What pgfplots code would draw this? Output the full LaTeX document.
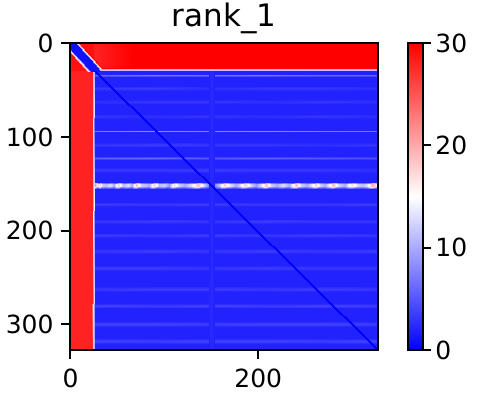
\documentclass[border=0pt]{standalone}
\usepackage{fontspec}
\setmainfont{DejaVu Sans}
\usepackage{pgfplots}
\pgfplotsset{compat=1.18}
\pgfplotsset{
  /pgf/number format/assume math mode=true,
  every axis/.append style={
    tick align=outside, major tick length=8.75pt,
    tick style={line width=2pt, black},
    axis line style={line width=2pt},
    tick label style={font=\fontsize{25}{30}\selectfont, inner sep=0pt},
  },
}
\begin{document}
\begin{tikzpicture}
\path[use as bounding box] (0pt,0pt) rectangle (484pt,392pt);
\begin{axis}[
  at={(70pt,42pt)}, anchor=south west,
  scale only axis, width=308pt, height=307pt,
  xmin=-0.5, xmax=327.5, ymin=-0.5, ymax=327.5, y dir=reverse,
  enlargelimits=false, axis on top,
  xtick={0,200}, ytick={0,100,200,300},
  xtick pos=left, ytick pos=left,
  xticklabel style={anchor=north, yshift=-10pt},
  yticklabel style={anchor=east, xshift=-7.5pt},
  title={rank\_1},
  title style={font=\fontsize{31}{36}\selectfont, at={(0.5,1)}, anchor=base, yshift=10.3pt, inner sep=0pt},
  colormap={bwr}{rgb255(0cm)=(0,0,255); rgb255(1cm)=(255,255,255); rgb255(2cm)=(255,0,0)},
  point meta min=0, point meta max=30,
  colorbar right,
  colorbar style={
    at={(parent axis.north east)}, anchor=north west, xshift=21pt,
    scale only axis, width=15pt, height=307pt,
    ymin=0, ymax=30, ytick={0,10,20,30},
    ytick pos=right, yticklabel pos=right,
    yticklabel style={anchor=west, xshift=4pt},
  },
]
% base, corner, top and left bands, corner diagonal
\addplot[patch, patch type=rectangle, shader=interp, point meta=explicit] table[meta=c] {
x y c
-0.5 -0.5 2
327.5 -0.5 2
327.5 327.5 2
-0.5 327.5 2
-0.5 -0.5 29
25.5 -0.5 29
25.5 29.5 29
-0.5 29.5 29
25.5 -0.5 30
327.5 -0.5 30
327.5 26.5 30
25.5 26.5 30
25.5 -0.5 28
65 -0.5 30
65 26.5 30
25.5 26.5 28
25.5 26.5 30
327.5 26.5 30
327.5 29.5 2
25.5 29.5 2
-0.5 29.5 28
23 29.5 28
23 327.5 28
-0.5 327.5 28
23 29.5 28
26.5 29.5 2
26.5 327.5 2
23 327.5 28
-5.5 -0.5 1
4.5 -0.5 1
31.5 29.5 1
21.5 29.5 1
4.5 -0.5 1
9.5 -0.5 30
33.8 26.5 30
28.8 26.5 1
-10.5 -0.5 29
-5.5 -0.5 1
21.5 29.5 1
16.5 29.5 29
};
% faint horizontal lines in the blue part
\addplot[surf, shader=interp, mesh/cols=6, point meta=explicit] table[meta=c] {
x y c
26.5 32.5 2
87 32.5 2
147 32.5 2
207 32.5 2
267 32.5 2
327.5 32.5 2
26.5 34 6
87 34 7
147 34 6.5
207 34 7
267 34 6
327.5 34 6
26.5 35.5 2
87 35.5 2
147 35.5 2
207 35.5 2
267 35.5 2
327.5 35.5 2
26.5 45 2
87 45 2
147 45 2
207 45 2
267 45 2
327.5 45 2
26.5 48 3.2
87 48 3.6
147 48 2.8
207 48 3.2
267 48 3.2
327.5 48 2.8
26.5 51 2
87 51 2
147 51 2
207 51 2
267 51 2
327.5 51 2
26.5 59 2
87 59 2
147 59 2
207 59 2
267 59 2
327.5 59 2
26.5 62 2.8
87 62 3.2
147 62 3.2
207 62 2.8
267 62 3.2
327.5 62 2.8
26.5 65 2
87 65 2
147 65 2
207 65 2
267 65 2
327.5 65 2
26.5 75 2
87 75 2
147 75 2
207 75 2
267 75 2
327.5 75 2
26.5 78 3.2
87 78 2.8
147 78 3.2
207 78 2.8
267 78 3.2
327.5 78 2.8
26.5 81 2
87 81 2
147 81 2
207 81 2
267 81 2
327.5 81 2
26.5 92 2
87 92 2
147 92 2
207 92 2
267 92 2
327.5 92 2
26.5 93.5 7
87 93.5 8
147 93.5 7.5
207 93.5 8
267 93.5 7
327.5 93.5 6.5
26.5 95 2
87 95 2
147 95 2
207 95 2
267 95 2
327.5 95 2
26.5 105 2
87 105 2
147 105 2
207 105 2
267 105 2
327.5 105 2
26.5 108 3.2
87 108 3.6
147 108 3.2
207 108 3.2
267 108 2.8
327.5 108 3.2
26.5 111 2
87 111 2
147 111 2
207 111 2
267 111 2
327.5 111 2
26.5 120 2
87 120 2
147 120 2
207 120 2
267 120 2
327.5 120 2
26.5 122 5.5
87 122 6
147 122 5
207 122 5.5
267 122 5
327.5 122 4.5
26.5 124 2
87 124 2
147 124 2
207 124 2
267 124 2
327.5 124 2
26.5 132 2
87 132 2
147 132 2
207 132 2
267 132 2
327.5 132 2
26.5 135 3.2
87 135 3.2
147 135 3.6
207 135 3.2
267 135 3.2
327.5 135 2.8
26.5 138 2
87 138 2
147 138 2
207 138 2
267 138 2
327.5 138 2
26.5 169 2
87 169 2
147 169 2
207 169 2
267 169 2
327.5 169 2
26.5 172 3.6
87 172 3.2
147 172 3.6
207 172 3.2
267 172 3.2
327.5 172 3.6
26.5 175 2
87 175 2
147 175 2
207 175 2
267 175 2
327.5 175 2
26.5 187 2
87 187 2
147 187 2
207 187 2
267 187 2
327.5 187 2
26.5 190 3.2
87 190 3.6
147 190 3.2
207 190 3.6
267 190 3.2
327.5 190 3.2
26.5 193 2
87 193 2
147 193 2
207 193 2
267 193 2
327.5 193 2
26.5 202 2
87 202 2
147 202 2
207 202 2
267 202 2
327.5 202 2
26.5 205 3.6
87 205 3.2
147 205 3.6
207 205 3.2
267 205 3.6
327.5 205 3.2
26.5 208 2
87 208 2
147 208 2
207 208 2
267 208 2
327.5 208 2
26.5 219 2
87 219 2
147 219 2
207 219 2
267 219 2
327.5 219 2
26.5 222 3.2
87 222 3.6
147 222 3.2
207 222 3.6
267 222 3.2
327.5 222 3.6
26.5 225 2
87 225 2
147 225 2
207 225 2
267 225 2
327.5 225 2
26.5 237 2
87 237 2
147 237 2
207 237 2
267 237 2
327.5 237 2
26.5 240 3.6
87 240 3.6
147 240 3.2
207 240 3.6
267 240 3.2
327.5 240 3.2
26.5 243 2
87 243 2
147 243 2
207 243 2
267 243 2
327.5 243 2
26.5 259 2
87 259 2
147 259 2
207 259 2
267 259 2
327.5 259 2
26.5 262 3.2
87 262 3.6
147 262 3.6
207 262 3.2
267 262 3.6
327.5 262 3.2
26.5 265 2
87 265 2
147 265 2
207 265 2
267 265 2
327.5 265 2
26.5 277 2
87 277 2
147 277 2
207 277 2
267 277 2
327.5 277 2
26.5 280 4
87 280 3.6
147 280 4
207 280 3.6
267 280 4
327.5 280 3.6
26.5 283 2
87 283 2
147 283 2
207 283 2
267 283 2
327.5 283 2
26.5 297 2
87 297 2
147 297 2
207 297 2
267 297 2
327.5 297 2
26.5 300 4
87 300 4
147 300 3.6
207 300 4
267 300 4
327.5 300 3.6
26.5 303 2
87 303 2
147 303 2
207 303 2
267 303 2
327.5 303 2
26.5 315 2
87 315 2
147 315 2
207 315 2
267 315 2
327.5 315 2
26.5 318 4
87 318 3.6
147 318 4
207 318 4
267 318 3.6
327.5 318 4
26.5 321 2
87 321 2
147 321 2
207 321 2
267 321 2
327.5 321 2
};
% bright band near row 151
\addplot[surf, shader=interp, mesh/cols=60, point meta=explicit] table[meta=c] {
x y c
26.5 147.5 2
29 147.5 2
31 147.5 2
34 147.5 2
38 147.5 2
42 147.5 2
46 147.5 2
51 147.5 2
56 147.5 2
61 147.5 2
66 147.5 2
70 147.5 2
75 147.5 2
80 147.5 2
84 147.5 2
89 147.5 2
94 147.5 2
100 147.5 2
105 147.5 2
110 147.5 2
116 147.5 2
122 147.5 2
128 147.5 2
136 147.5 2
142 147.5 2
146 147.5 2
150 147.5 2
154 147.5 2
158 147.5 2
163 147.5 2
170 147.5 2
176 147.5 2
180 147.5 2
186 147.5 2
192 147.5 2
198 147.5 2
203 147.5 2
208 147.5 2
214 147.5 2
220 147.5 2
226 147.5 2
233 147.5 2
240 147.5 2
246 147.5 2
252 147.5 2
256 147.5 2
261 147.5 2
266 147.5 2
271 147.5 2
275 147.5 2
280 147.5 2
286 147.5 2
292 147.5 2
296 147.5 2
300 147.5 2
306 147.5 2
312 147.5 2
316 147.5 2
321 147.5 2
327.5 147.5 2
26.5 150.2 21
29 150.2 13
31 150.2 18
34 150.2 12
38 150.2 11
42 150.2 13
46 150.2 10
51 150.2 18
56 150.2 11
61 150.2 13
66 150.2 10
70 150.2 19
75 150.2 12
80 150.2 11
84 150.2 10
89 150.2 18
94 150.2 11
100 150.2 12
105 150.2 9
110 150.2 17
116 150.2 12
122 150.2 10
128 150.2 13
136 150.2 19
142 150.2 12
146 150.2 8
150 150.2 4
154 150.2 8
158 150.2 11
163 150.2 18
170 150.2 13
176 150.2 10
180 150.2 12
186 150.2 18
192 150.2 12
198 150.2 9
203 150.2 13
208 150.2 19
214 150.2 12
220 150.2 10
226 150.2 13
233 150.2 10
240 150.2 19
246 150.2 12
252 150.2 10
256 150.2 13
261 150.2 18
266 150.2 12
271 150.2 10
275 150.2 14
280 150.2 19
286 150.2 12
292 150.2 10
296 150.2 14
300 150.2 17
306 150.2 12
312 150.2 11
316 150.2 13
321 150.2 20
327.5 150.2 15
26.5 152.4 21
29 152.4 13
31 152.4 18
34 152.4 12
38 152.4 11
42 152.4 13
46 152.4 10
51 152.4 18
56 152.4 11
61 152.4 13
66 152.4 10
70 152.4 19
75 152.4 12
80 152.4 11
84 152.4 10
89 152.4 18
94 152.4 11
100 152.4 12
105 152.4 9
110 152.4 17
116 152.4 12
122 152.4 10
128 152.4 13
136 152.4 19
142 152.4 12
146 152.4 8
150 152.4 4
154 152.4 8
158 152.4 11
163 152.4 18
170 152.4 13
176 152.4 10
180 152.4 12
186 152.4 18
192 152.4 12
198 152.4 9
203 152.4 13
208 152.4 19
214 152.4 12
220 152.4 10
226 152.4 13
233 152.4 10
240 152.4 19
246 152.4 12
252 152.4 10
256 152.4 13
261 152.4 18
266 152.4 12
271 152.4 10
275 152.4 14
280 152.4 19
286 152.4 12
292 152.4 10
296 152.4 14
300 152.4 17
306 152.4 12
312 152.4 11
316 152.4 13
321 152.4 20
327.5 152.4 15
26.5 155 2
29 155 2
31 155 2
34 155 2
38 155 2
42 155 2
46 155 2
51 155 2
56 155 2
61 155 2
66 155 2
70 155 2
75 155 2
80 155 2
84 155 2
89 155 2
94 155 2
100 155 2
105 155 2
110 155 2
116 155 2
122 155 2
128 155 2
136 155 2
142 155 2
146 155 2
150 155 2
154 155 2
158 155 2
163 155 2
170 155 2
176 155 2
180 155 2
186 155 2
192 155 2
198 155 2
203 155 2
208 155 2
214 155 2
220 155 2
226 155 2
233 155 2
240 155 2
246 155 2
252 155 2
256 155 2
261 155 2
266 155 2
271 155 2
275 155 2
280 155 2
286 155 2
292 155 2
296 155 2
300 155 2
306 155 2
312 155 2
316 155 2
321 155 2
327.5 155 2
};
% faint vertical line and main diagonal
\addplot[patch, patch type=rectangle, shader=interp, point meta=explicit] table[meta=c] {
x y c
147 29.5 2
150 29.5 2.5
150 327.5 2.5
147 327.5 2
150 29.5 2.5
153 29.5 2
153 327.5 2
150 327.5 2.5
25.3 29.5 0
27.7 29.5 0
328.7 327.5 0
326.3 327.5 0
};
\end{axis}
\end{tikzpicture}
\end{document}
